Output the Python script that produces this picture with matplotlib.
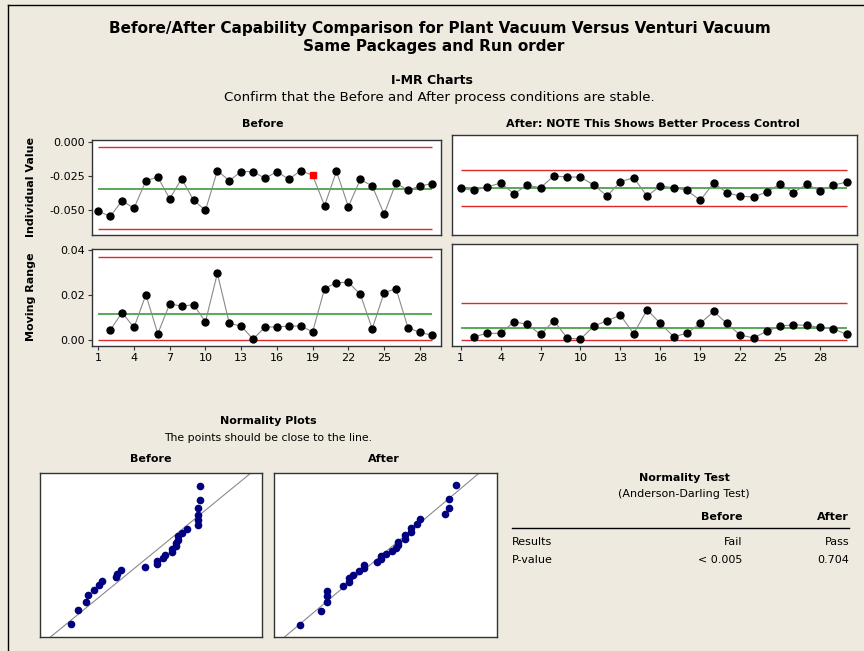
import numpy as np
import matplotlib
matplotlib.use("Agg")
import matplotlib.pyplot as plt
from matplotlib.lines import Line2D
from statistics import NormalDist

# Individual values
before_ind = [-0.0510, -0.0550, -0.0434, -0.0490, -0.0287, -0.0260, -0.0420, -0.0272,
              -0.0430, -0.0505, -0.0213, -0.0287, -0.0220, -0.0220, -0.0270, -0.0220,
              -0.0277, -0.0213, -0.0248, -0.0470, -0.0218, -0.0478, -0.0277, -0.0326,
              -0.0532, -0.0304, -0.0358, -0.0326, -0.0309]
after_ind = [-0.0343, -0.0358, -0.0333, -0.0304, -0.0382, -0.0321, -0.0338, -0.0252,
             -0.0260, -0.0260, -0.0319, -0.0400, -0.0294, -0.0265, -0.0400, -0.0326,
             -0.0338, -0.0358, -0.0431, -0.0304, -0.0375, -0.0400, -0.0407, -0.0370,
             -0.0311, -0.0375, -0.0311, -0.0363, -0.0319, -0.0297]

# Moving ranges (observation 2 onward)
before_mr = [0.0044, 0.0122, 0.0056, 0.0201, 0.0028, 0.0161, 0.0150, 0.0157, 0.0081,
             0.0296, 0.0074, 0.0062, 0.0004, 0.0058, 0.0058, 0.0062, 0.0062, 0.0037,
             0.0228, 0.0255, 0.0256, 0.0203, 0.0050, 0.0210, 0.0228, 0.0055, 0.0034,
             0.0022]
after_mr = [0.0015, 0.0030, 0.0030, 0.0081, 0.0070, 0.0025, 0.0086, 0.0009, 0.0004,
            0.0062, 0.0086, 0.0110, 0.0028, 0.0135, 0.0074, 0.0015, 0.0030, 0.0074,
            0.0127, 0.0074, 0.0022, 0.0010, 0.0039, 0.0062, 0.0068, 0.0065, 0.0056,
            0.0050, 0.0025]

# control limits: (LCL, center, UCL)
before_ind_lim = (-0.0642, -0.0348, -0.0042)
after_ind_lim = (-0.0473, -0.0341, -0.0208)
before_mr_lim = (0.0, 0.0116, 0.0369)
after_mr_lim = (0.0, 0.0052, 0.0166)
flagged_before = [19]

table_cols = ["Before", "After"]
table_rows = ["Results", "P-value"]
table_vals = [["Fail", "Pass"], ["< 0.005", "0.704"]]

W, H = 864, 651
BG = "#EEEAE0"
RED = "#E02828"
GREEN = "#3C9A3C"
plt.rcParams['font.family'] = ['DejaVu Sans']

fig = plt.figure(figsize=(W / 100, H / 100), dpi=100, facecolor=BG)


def px_axes(x0, y0, x1, y1):
    ax = fig.add_axes([x0 / W, 1 - y1 / H, (x1 - x0) / W, (y1 - y0) / H])
    ax.set_facecolor("white")
    for s in ax.spines.values():
        s.set_color("#333333")
        s.set_linewidth(1.0)
    ax.tick_params(length=3, width=0.8, color="#333333", labelsize=8, pad=2)
    return ax


def ftext(x, y, s, **kw):
    fig.text(x / W, 1 - y / H, s, va="center", **kw)


def control_chart(ax, x, y, lim, xlim, ylim, n, flagged=()):
    lo, c, hi = lim
    ax.hlines([hi, lo], 1, n, colors=RED, lw=1)
    ax.hlines(c, 1, n, colors=GREEN, lw=1.2)
    ax.plot(x, y, color="#8a8a8a", lw=0.8, zorder=2)
    x = np.asarray(x)
    y = np.asarray(y)
    keep = ~np.isin(x, flagged)
    ax.plot(x[keep], y[keep], "o", color="black", ms=5, zorder=3)
    if len(flagged):
        ax.plot(x[~keep], y[~keep], "s", color="red", ms=5, zorder=3)
    ax.set_xlim(*xlim)
    ax.set_ylim(*ylim)


# --- I-MR charts ---
nb, na = len(before_ind), len(after_ind)
xb = np.arange(1, nb + 1)
xa = np.arange(1, na + 1)
xlim_b = (0.45, 29.75)
xlim_a = (0.37, 30.75)

ax1 = px_axes(91.7, 140, 440.7, 235)
control_chart(ax1, xb, before_ind, before_ind_lim, xlim_b, (-0.0686, 0.0012), nb, flagged_before)
ax1.set_yticks([0.0, -0.025, -0.05])
ax1.set_yticklabels(["0.000", "-0.025", "-0.050"])
ax1.set_xticks([])

ax2 = px_axes(452.3, 135, 856.7, 235)
control_chart(ax2, xa, after_ind, after_ind_lim, xlim_a, (-0.0686, 0.0049), na)
ax2.set_xticks([])
ax2.set_yticks([])

ax3 = px_axes(91.7, 249, 440.7, 345.7)
control_chart(ax3, xb[1:], before_mr, before_mr_lim, xlim_b, (-0.0025, 0.0404), nb)
ax3.set_yticks([0.0, 0.02, 0.04])
ax3.set_yticklabels(["0.00", "0.02", "0.04"])
ax3.set_xticks(np.arange(1, 29, 3))

ax4 = px_axes(452.3, 244.3, 856.7, 345.7)
control_chart(ax4, xa[1:], after_mr, after_mr_lim, xlim_a, (-0.0025, 0.0425), na)
ax4.set_yticks([])
ax4.set_xticks(np.arange(1, 29, 3))

# --- normality plots ---
def norm_plot(ax, data, xlim):
    d = np.sort(np.asarray(data))
    n = len(d)
    nd = NormalDist()
    z = np.array([nd.inv_cdf((i - 0.3) / (n + 0.4)) for i in range(1, n + 1)])
    m, s = d.mean(), d.std(ddof=1)
    xs = np.array(xlim)
    ax.plot(xs, (xs - m) / s, color="#8a8a8a", lw=0.8, zorder=2)
    ax.plot(d, z, "o", color="#000080", ms=4.5, zorder=3)
    ax.set_xlim(*xlim)
    ax.set_ylim(-2.33, 2.33)
    ax.set_xticks([])
    ax.set_yticks([])


ax5 = px_axes(40, 473.3, 262.3, 636.7)
norm_plot(ax5, before_ind, (-0.0631, -0.0051))
ax6 = px_axes(274.3, 473.3, 496.7, 636.7)
norm_plot(ax6, after_ind, (-0.0460, -0.0206))

# --- text ---
ftext(440, 28, "Before/After Capability Comparison for Plant Vacuum Versus Venturi Vacuum",
      ha="center", fontsize=11, fontweight="bold")
ftext(434, 47, "Same Packages and Run order", ha="center", fontsize=11, fontweight="bold")
ftext(432, 80, "I-MR Charts", ha="center", fontsize=9, fontweight="bold")
ftext(439, 97, "Confirm that the Before and After process conditions are stable.",
      ha="center", fontsize=9.6)
ftext(263, 124, "Before", ha="center", fontsize=8, fontweight="bold")
ftext(653, 124, "After: NOTE This Shows Better Process Control", ha="center",
      fontsize=8, fontweight="bold")
ftext(31, 187, "Individual Value", ha="center", rotation=90, fontsize=8, fontweight="bold")
ftext(31, 297, "Moving Range", ha="center", rotation=90, fontsize=8, fontweight="bold")

ftext(268, 421, "Normality Plots", ha="center", fontsize=8, fontweight="bold")
ftext(268, 438, "The points should be close to the line.", ha="center", fontsize=7.8)
ftext(151, 459, "Before", ha="center", fontsize=8, fontweight="bold")
ftext(384, 459, "After", ha="center", fontsize=8, fontweight="bold")

ftext(684, 478, "Normality Test", ha="center", fontsize=8, fontweight="bold")
ftext(684, 494, "(Anderson-Darling Test)", ha="center", fontsize=8)
col_x = [742, 849]
for cx, lab in zip(col_x, table_cols):
    ftext(cx, 517, lab, ha="right", fontsize=8, fontweight="bold")
fig.add_artist(Line2D([512 / W, 849 / W], [1 - 527.5 / H] * 2, color="black", lw=1))
for r, (lab, vals) in enumerate(zip(table_rows, table_vals)):
    yy = 542 + r * 18
    ftext(512, yy, lab, ha="left", fontsize=8)
    for cx, v in zip(col_x, vals):
        ftext(cx, yy, v, ha="right", fontsize=8)

# outer frame (cropped)
fig.add_artist(Line2D([8 / W, 8 / W], [0, 1 - 5 / H], color="black", lw=1))
fig.add_artist(Line2D([8 / W, 1], [1 - 5 / H] * 2, color="black", lw=1))

fig.savefig("out.png", dpi=100, facecolor=BG)
